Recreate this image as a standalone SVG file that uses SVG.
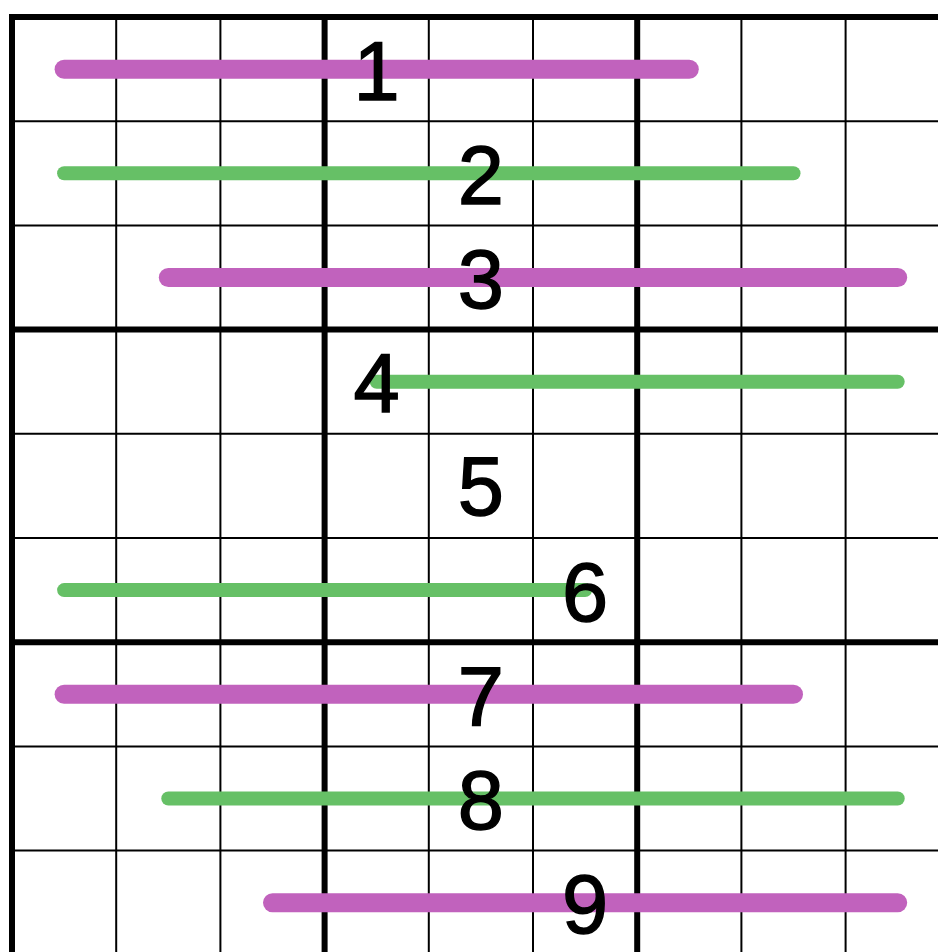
<svg xmlns="http://www.w3.org/2000/svg" width="938" height="952" viewBox="0 0 938 952">
<style>
.thin{stroke:#000;stroke-width:2;fill:none}
.thick{stroke:#000;stroke-width:6;fill:none}
.mag{stroke:#C162BD;stroke-width:19;stroke-linecap:round;fill:none}
.grn{stroke:#66C066;stroke-width:14;stroke-linecap:round;fill:none}
.num{font-family:"Liberation Sans",Arial,sans-serif;font-size:83px;fill:#000;stroke:#000;stroke-width:1.4;text-anchor:middle}
</style>
<rect width="938" height="952" fill="#fff"/>
<g id="grid">
<g class="thin">
<line x1="116.2" y1="17" x2="116.2" y2="952"/>
<line x1="220.4" y1="17" x2="220.4" y2="952"/>
<line x1="428.8" y1="17" x2="428.8" y2="952"/>
<line x1="533" y1="17" x2="533" y2="952"/>
<line x1="741.4" y1="17" x2="741.4" y2="952"/>
<line x1="845.6" y1="17" x2="845.6" y2="952"/>
<line x1="12" y1="121.2" x2="938" y2="121.2"/>
<line x1="12" y1="225.4" x2="938" y2="225.4"/>
<line x1="12" y1="433.8" x2="938" y2="433.8"/>
<line x1="12" y1="538" x2="938" y2="538"/>
<line x1="12" y1="746.4" x2="938" y2="746.4"/>
<line x1="12" y1="850.6" x2="938" y2="850.6"/>
</g>
<g class="thick">
<line x1="12" y1="14" x2="12" y2="952"/>
<line x1="324.6" y1="17" x2="324.6" y2="952"/>
<line x1="637.2" y1="17" x2="637.2" y2="952"/>
<line x1="9" y1="17" x2="938" y2="17"/>
<line x1="12" y1="329.6" x2="938" y2="329.6"/>
<line x1="12" y1="642.2" x2="938" y2="642.2"/>
</g>
</g>
<g id="connectors">
<line class="mag" x1="64.1" y1="69.3" x2="689.3" y2="69.3"/>
<line class="grn" x1="64.1" y1="173.3" x2="793.5" y2="173.3"/>
<line class="mag" x1="168.3" y1="277.5" x2="897.7" y2="277.5"/>
<line class="grn" x1="376.7" y1="381.7" x2="897.7" y2="381.7"/>
<line class="grn" x1="64.1" y1="590.1" x2="585.1" y2="590.1"/>
<line class="mag" x1="64.1" y1="694.3" x2="793.5" y2="694.3"/>
<line class="grn" x1="168.3" y1="798.5" x2="897.7" y2="798.5"/>
<line class="mag" x1="272.5" y1="902.7" x2="897.7" y2="902.7"/>
</g>
<g id="n1"><text class="num" x="376.7" y="100">1</text></g>
<g id="n2"><text class="num" x="480.9" y="204">2</text></g>
<g id="n3"><text class="num" x="480.9" y="308">3</text></g>
<g id="n4"><text class="num" x="376.7" y="412">4</text></g>
<g id="n5"><text class="num" x="480.9" y="515">5</text></g>
<g id="n6"><text class="num" x="585.1" y="621">6</text></g>
<g id="n7"><text class="num" x="480.9" y="725">7</text></g>
<g id="n8"><text class="num" x="480.9" y="829">8</text></g>
<g id="n9"><text class="num" x="585.1" y="933">9</text></g>
</svg>
